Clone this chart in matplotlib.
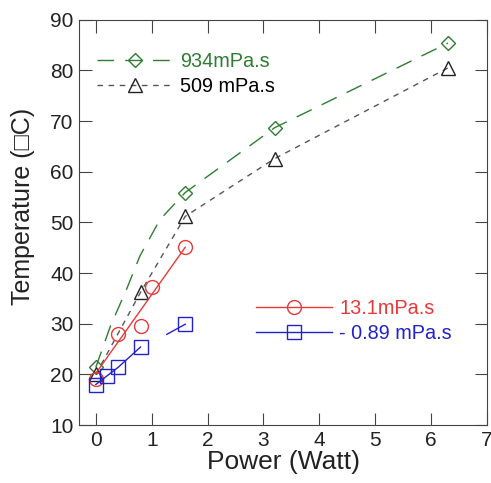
import matplotlib.pyplot as plt
import matplotlib
matplotlib.rcParams['font.family'] = ['Liberation Sans', 'DejaVu Sans']

# 934 mPa.s (markers and the drawn curve)
p934 = [0, 1.6, 3.2, 6.3]
t934 = [21.4, 55.9, 68.7, 85.4]
p934_line = [0, 0.26, 0.55, 0.79, 1.15, 1.6, 3.2, 6.3]
t934_line = [21.4, 29.5, 36.8, 43.4, 50.6, 55.9, 68.7, 85.4]

# 509 mPa.s
p509 = [0, 0.8, 1.6, 3.2, 6.3]
t509 = [20.0, 36.2, 51.2, 62.6, 80.5]

# 13.1 mPa.s (markers and fitted line)
p131 = [0, 0.4, 0.8, 1.0, 1.6]
t131 = [19.1, 27.9, 29.6, 37.3, 45.1]
p131_fit = [0, 1.6]
t131_fit = [20.2, 45.1]

# 0.89 mPa.s
p089 = [0, 0.2, 0.4, 0.8, 1.6]
t089 = [18.0, 19.7, 21.4, 25.4, 29.9]
p089_seg = [1.27, 1.6]
t089_seg = [27.9, 29.9]

green = '#2e7d32'
red = '#e8393a'
blue = '#2222cc'

fig = plt.figure(figsize=(4.91, 4.83), dpi=100)
ax = fig.add_axes([0.161, 0.12, 0.831, 0.839])

ax.plot(p934_line, t934_line, color=green, lw=1, dashes=(12, 8))
ax.plot(p934, t934, ls='none', marker='D', ms=7.5, mfc='none', mec=green, mew=1)
l934, = ax.plot([], [], color=green, lw=1, dashes=(12, 8), marker='D', ms=7.5, mfc='none', mec=green)

l509, = ax.plot(p509, t509, color='#555555', lw=1, dashes=(4, 4), marker='^', ms=10,
                mfc='none', mec='#222222', mew=1)

ax.plot(p131_fit, t131_fit, color=red, lw=1)
ax.plot(p131, t131, ls='none', marker='o', ms=10, mfc='none', mec=red, mew=1)
l131, = ax.plot([], [], color=red, lw=1, marker='o', ms=10, mfc='none', mec=red)

ax.plot(p089[:4], t089[:4], color=blue, lw=1)
ax.plot(p089_seg, t089_seg, color=blue, lw=1)
ax.plot(p089, t089, ls='none', marker='s', ms=10, mfc='none', mec=blue, mew=1)
l089, = ax.plot([], [], color=blue, lw=1, marker='s', ms=10, mfc='none', mec=blue)

ax.set_xlim(-0.3, 7)
ax.set_ylim(10, 90)
ax.set_xticks(range(0, 8))
ax.set_yticks(range(10, 91, 10))
ax.tick_params(direction='in', length=9, top=True, right=True, labelsize=15, color='#444444',
               labelcolor='#222222', pad=4)
for s in ax.spines.values():
    s.set_color('#444444')
ax.set_xlabel('Power (Watt)', fontsize=19, labelpad=0, color='#222222')
ax.set_ylabel('Temperature (\u25a1C)', fontsize=18, color='#222222')
ax.yaxis.set_label_coords(-0.108, 0.54)

leg1 = ax.legend([l934, l509], ['934mPa.s', '509 mPa.s'], loc='upper left',
                 bbox_to_anchor=(0.0, 0.965), frameon=False, fontsize=14.3, handlelength=3.8,
                 handletextpad=0.4, labelspacing=0.3)
leg1.get_texts()[0].set_color(green)
ax.add_artist(leg1)
leg2 = ax.legend([l131, l089], ['13.1mPa.s', '- 0.89 mPa.s'], loc='center left',
                 bbox_to_anchor=(0.39, 0.257), frameon=False, fontsize=14.3, handlelength=3.8,
                 handletextpad=0.4, labelspacing=0.3)
leg2.get_texts()[0].set_color(red)
leg2.get_texts()[1].set_color(blue)

fig.savefig('out.png', dpi=100)
